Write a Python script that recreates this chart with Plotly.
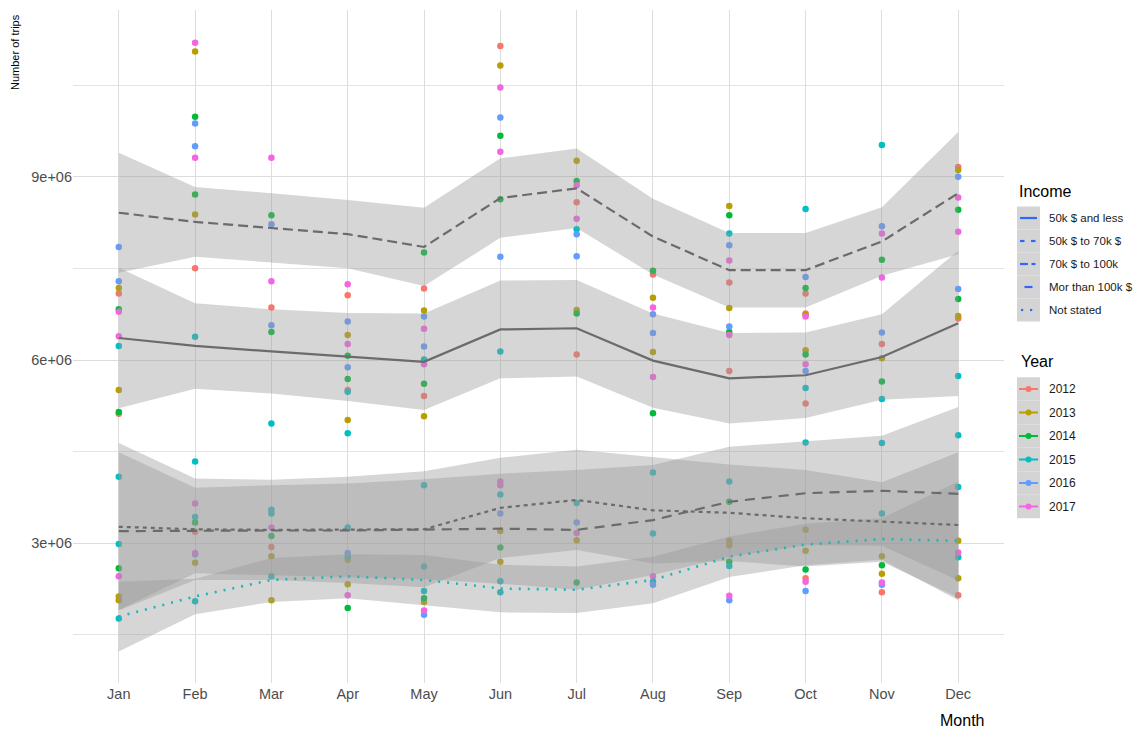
import numpy as np
import plotly.graph_objects as go

MONTHS = ["Jan", "Feb", "Mar", "Apr", "May", "Jun", "Jul", "Aug", "Sep", "Oct", "Nov", "Dec"]
YEARS = ["2012", "2013", "2014", "2015", "2016", "2017"]
YEAR_COLORS = ["#F8766D", "#B79F00", "#00BA38", "#00BFC4", "#619CFF", "#F564E3"]
MILLION = 1e6

# Monthly trip counts (millions) per year; each month lists the income-group values
trips_2012 = [[7.09, 5.12], [7.50, 3.19], [6.86, 2.94], [7.06, 5.51], [7.17, 5.41], [11.14],
              [8.58, 6.09], [7.40], [7.27, 5.82], [7.09, 6.76, 5.29, 2.43], [6.26, 2.20], [9.16, 6.68, 2.15]]
trips_2013 = [[7.18, 5.51, 2.13, 2.07], [11.05, 8.38, 2.68], [2.79, 2.07], [6.41, 5.02, 2.73, 2.33],
              [6.81, 5.08, 2.04], [10.82, 3.20, 2.70], [9.26, 6.82, 3.05], [7.02, 6.13],
              [8.52, 6.85, 3.04, 2.97], [6.74, 6.16, 3.22, 2.88], [6.03, 2.79, 2.50], [9.11, 6.72, 3.04, 2.43]]
trips_2014 = [[6.83, 5.15, 2.59], [9.98, 8.71, 3.34], [8.37, 6.46, 3.12], [6.07, 5.69, 1.94],
              [7.76, 5.61, 2.10], [9.67, 8.63, 2.93], [8.93, 6.76, 2.36], [7.46, 5.13],
              [8.37, 6.46, 3.68, 2.70], [7.18, 6.09, 2.57], [7.64, 5.65, 2.64], [8.46, 7.00]]
trips_2015 = [[6.23, 4.09, 2.99, 1.77], [6.38, 4.34, 3.43, 2.05], [4.96, 3.55, 3.49, 2.46],
              [5.48, 4.80, 3.26, 2.78], [6.01, 3.95, 2.62, 2.22], [6.14, 3.80, 2.38, 2.20],
              [8.14, 3.66], [4.16, 3.16, 2.37], [8.07, 4.01, 2.63], [8.47, 5.54, 4.65],
              [9.52, 5.36, 4.64, 3.49], [5.74, 4.77, 3.92, 2.77]]
trips_2016 = [[7.85, 7.29], [9.87, 9.50, 2.82], [8.22, 6.57], [6.63, 5.88, 2.84], [6.71, 6.22, 1.83],
              [9.97, 7.69, 3.49], [8.06, 7.70, 3.34], [6.75, 6.44, 2.32], [7.88, 6.55, 2.07],
              [7.36, 5.82, 2.22], [8.19, 6.45, 2.32], [9.00, 7.16]]
trips_2017 = [[6.79, 6.39, 2.46], [11.19, 9.31, 3.65, 2.84], [9.31, 7.29, 3.26], [7.24, 6.26, 2.15],
              [6.51, 5.93, 1.90], [10.46, 9.41, 4.01, 3.95], [8.86, 8.31, 3.17], [6.86, 5.72, 2.46],
              [7.63, 6.41, 2.14], [6.71, 5.93, 2.37], [8.07, 7.35, 2.36], [8.66, 8.10, 2.85]]
TRIPS = [trips_2012, trips_2013, trips_2014, trips_2015, trips_2016, trips_2017]

# Smoothed income trends (millions) and the half-width of their confidence bands
INCOMES = ["50k $ and less", "50k $ to 70k $", "70k $ to 100k", "Mor than 100k $", "Not stated"]
fit_50k_less = [6.36, 6.23, 6.14, 6.05, 5.97, 6.50, 6.52, 5.99, 5.70, 5.75, 6.05, 6.60]
band_50k_less = [1.15, 0.70, 0.69, 0.72, 0.79, 0.80, 0.79, 0.77, 0.74, 0.70, 0.70, 1.19]
fit_50k_70k = [3.27, 3.23, 3.22, 3.22, 3.23, 3.58, 3.71, 3.54, 3.50, 3.41, 3.35, 3.30]
band_50k_70k = [1.37, 0.83, 0.82, 0.87, 0.95, 0.82, 0.82, 0.87, 0.79, 0.79, 0.65, 1.19]
fit_70k_100k = [3.20, 3.21, 3.21, 3.21, 3.23, 3.24, 3.22, 3.38, 3.68, 3.82, 3.86, 3.81]
band_70k_100k = [1.29, 0.70, 0.74, 0.77, 0.82, 0.90, 0.98, 0.90, 0.90, 0.85, 0.90, 1.42]
fit_100k_more = [8.41, 8.26, 8.16, 8.06, 7.85, 8.65, 8.81, 8.02, 7.47, 7.47, 7.94, 8.73]
band_100k_more = [0.98, 0.57, 0.57, 0.56, 0.64, 0.65, 0.65, 0.62, 0.61, 0.61, 0.56, 1.00]
fit_not_stated = [1.80, 2.13, 2.40, 2.46, 2.40, 2.26, 2.24, 2.40, 2.78, 2.98, 3.07, 3.04]
band_not_stated = [0.57, 0.29, 0.36, 0.36, 0.41, 0.39, 0.38, 0.38, 0.33, 0.34, 0.34, 0.97]

FITS = [fit_50k_less, fit_50k_70k, fit_70k_100k, fit_100k_more, fit_not_stated]
BANDS = [band_50k_less, band_50k_70k, band_70k_100k, band_100k_more, band_not_stated]
LINE_DASH = ["solid", "4px,4px", "10px,7px", "10px,5px", "2px,7px"]
LINE_COLOR = ["#6B6B6B", "#6B6B6B", "#6B6B6B", "#6B6B6B", "#1DB5B8"]
LINE_WIDTH = [2.2, 2.2, 2.2, 2.2, 2.6]
# legend key segments: list of (x0, x1) pixel spans drawn inside the 23 px key
KEY_SEGMENTS = [
    [(1020, 1037)],
    [(1020, 1024.5), (1031, 1035.5)],
    [(1020, 1028), (1031.5, 1035.5)],
    [(1024.5, 1032.5)],
    [(1021, 1023.2), (1030, 1032.2)],
]

W, H = 1133, 730
PL, PR, PT, PB = 73, 1004, 10, 683
FONT = "Liberation Sans, Arial, sans-serif"

fig = go.Figure()

# scatter of monthly trips, coloured by year
for year, color, series in zip(YEARS, YEAR_COLORS, TRIPS):
    xs, ys = [], []
    for month, vals in zip(MONTHS, series):
        for v in vals:
            xs.append(month)
            ys.append(v * MILLION)
    fig.add_trace(go.Scatter(x=xs, y=ys, mode="markers", name=year, showlegend=False,
                             marker=dict(color=color, size=6.5, line=dict(width=0)),
                             hoverinfo="skip"))

# confidence ribbons
for fit, half in zip(FITS, BANDS):
    f = np.array(fit)
    h = np.array(half)
    upper = (f + h) * MILLION
    lower = (f - h) * MILLION
    fig.add_trace(go.Scatter(x=MONTHS + MONTHS[::-1],
                             y=np.concatenate([upper, lower[::-1]]),
                             fill="toself", fillcolor="rgba(153,153,153,0.4)",
                             line=dict(width=0), mode="lines", showlegend=False,
                             hoverinfo="skip"))

# smoothed trend lines
for name, fit, dash, color, lw in zip(INCOMES, FITS, LINE_DASH, LINE_COLOR, LINE_WIDTH):
    fig.add_trace(go.Scatter(x=MONTHS, y=np.array(fit) * MILLION, mode="lines", name=name,
                             showlegend=False,
                             line=dict(color=color, width=lw, dash=dash)))


def px_x(p):
    return (p - PL) / (PR - PL)


def px_y(p):
    return (PB - p) / (PB - PT)


shapes = []
annotations = []

# Income legend
annotations.append(dict(x=px_x(1017), y=px_y(191), xref="paper", yref="paper", text="Income",
                        showarrow=False, xanchor="left", yanchor="middle",
                        font=dict(size=16, color="#000000", family=FONT)))
inc_rows = [218, 241, 264, 287, 310]
for name, segs, yc in zip(INCOMES, KEY_SEGMENTS, inc_rows):
    shapes.append(dict(type="rect", xref="paper", yref="paper",
                       x0=px_x(1017), x1=px_x(1040), y0=px_y(yc - 11.5), y1=px_y(yc + 11.5),
                       fillcolor="#D4D4D4", line=dict(width=0), layer="above"))
    for x0, x1 in segs:
        shapes.append(dict(type="line", xref="paper", yref="paper",
                           x0=px_x(x0), x1=px_x(x1), y0=px_y(yc), y1=px_y(yc),
                           line=dict(color="#3366FF", width=2.2), layer="above"))
    annotations.append(dict(x=px_x(1047), y=px_y(yc), xref="paper", yref="paper", text=name,
                            showarrow=False, xanchor="left", yanchor="middle",
                            font=dict(size=11.5, color="#1A1A1A", family=FONT)))

# Year legend
annotations.append(dict(x=px_x(1019), y=px_y(362), xref="paper", yref="paper", text="Year",
                        showarrow=False, xanchor="left", yanchor="middle",
                        font=dict(size=16, color="#000000", family=FONT)))
yr_rows = [389, 412.5, 436, 459.5, 483, 506.5]
for year, color, yc in zip(YEARS, YEAR_COLORS, yr_rows):
    shapes.append(dict(type="rect", xref="paper", yref="paper",
                       x0=px_x(1017), x1=px_x(1040), y0=px_y(yc - 11.75), y1=px_y(yc + 11.75),
                       fillcolor="#D4D4D4", line=dict(width=0), layer="above"))
    shapes.append(dict(type="line", xref="paper", yref="paper",
                       x0=px_x(1019), x1=px_x(1038), y0=px_y(yc), y1=px_y(yc),
                       line=dict(color=color, width=2), layer="above"))
    shapes.append(dict(type="circle", xref="paper", yref="paper",
                       x0=px_x(1025.5), x1=px_x(1031.5), y0=px_y(yc - 3), y1=px_y(yc + 3),
                       fillcolor=color, line=dict(width=0), layer="above"))
    annotations.append(dict(x=px_x(1047), y=px_y(yc), xref="paper", yref="paper", text=year,
                            showarrow=False, xanchor="left", yanchor="middle",
                            font=dict(size=12, color="#1A1A1A", family=FONT)))

# axis titles
annotations.append(dict(x=px_x(15), y=px_y(12), xref="paper", yref="paper",
                        text="Number of trips", textangle=-90, showarrow=False,
                        xanchor="center", yanchor="top",
                        font=dict(size=11, color="#000000", family=FONT)))
annotations.append(dict(x=px_x(986), y=px_y(720), xref="paper", yref="paper", text="Month",
                        showarrow=False, xanchor="right", yanchor="middle",
                        font=dict(size=16, color="#000000", family=FONT)))

y_ticks = [3, 6, 9]
fig.update_layout(
    width=W, height=H,
    margin=dict(l=PL, r=W - PR, t=PT, b=H - PB, pad=0),
    paper_bgcolor="white", plot_bgcolor="white",
    showlegend=False,
    shapes=shapes, annotations=annotations,
    xaxis=dict(type="category", categoryorder="array", categoryarray=MONTHS,
               range=[-0.6, 11.6], showgrid=True, gridcolor="#DDDDDD", gridwidth=1,
               zeroline=False, showline=False, ticks="",
               tickfont=dict(size=14.5, color="#4D4D4D", family=FONT)),
    yaxis=dict(range=[0.714 * MILLION, 11.728 * MILLION],
               tickvals=[v * MILLION for v in y_ticks],
               ticktext=[f"{v}e+06" for v in y_ticks],
               showgrid=True, gridcolor="#DDDDDD", gridwidth=1,
               minor=dict(tickvals=[1.5 * MILLION, 4.5 * MILLION, 7.5 * MILLION, 10.5 * MILLION],
                          showgrid=True, gridcolor="#E4E4E4", gridwidth=1, ticks=""),
               zeroline=False, showline=False, ticks="",
               tickfont=dict(size=14.5, color="#4D4D4D", family=FONT)),
)

fig.write_html("out.html")
